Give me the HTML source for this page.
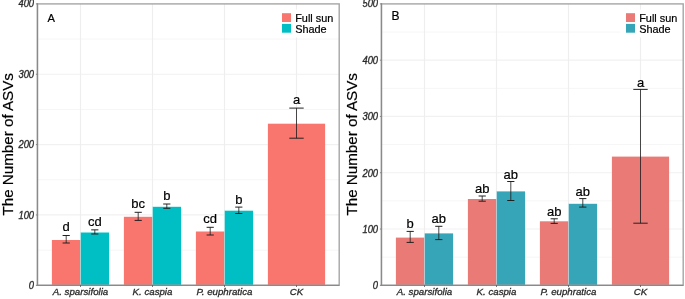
<!DOCTYPE html><html><head><meta charset="utf-8"><style>html,body{margin:0;padding:0;background:#fff;}svg{display:block;will-change:transform;}text{font-family:"Liberation Sans", sans-serif;-webkit-font-smoothing:antialiased;}</style></head><body>
<svg width="685" height="299" viewBox="0 0 685 299">
<rect width="685" height="299" fill="#fff"/>
<line x1="37.40" x2="339.20" y1="250.12" y2="250.12" stroke="#F6F6F6" stroke-width="1"/>
<line x1="37.40" x2="339.20" y1="179.77" y2="179.77" stroke="#F6F6F6" stroke-width="1"/>
<line x1="37.40" x2="339.20" y1="109.42" y2="109.42" stroke="#F6F6F6" stroke-width="1"/>
<line x1="37.40" x2="339.20" y1="39.07" y2="39.07" stroke="#F6F6F6" stroke-width="1"/>
<line x1="37.40" x2="339.20" y1="214.95" y2="214.95" stroke="#F1F1F1" stroke-width="1.2"/>
<line x1="37.40" x2="339.20" y1="144.60" y2="144.60" stroke="#F1F1F1" stroke-width="1.2"/>
<line x1="37.40" x2="339.20" y1="74.25" y2="74.25" stroke="#F1F1F1" stroke-width="1.2"/>
<line x1="80.50" x2="80.50" y1="3.90" y2="285.30" stroke="#EEEEEE" stroke-width="1.2"/>
<line x1="152.50" x2="152.50" y1="3.90" y2="285.30" stroke="#EEEEEE" stroke-width="1.2"/>
<line x1="224.50" x2="224.50" y1="3.90" y2="285.30" stroke="#EEEEEE" stroke-width="1.2"/>
<line x1="296.50" x2="296.50" y1="3.90" y2="285.30" stroke="#EEEEEE" stroke-width="1.2"/>
<rect x="51.90" y="240.00" width="28.60" height="45.30" fill="#F8766D"/>
<rect x="80.50" y="232.50" width="28.60" height="52.80" fill="#00BFC4"/>
<line x1="80.50" x2="80.50" y1="232.50" y2="285.30" stroke="#fff" stroke-opacity="0.6" stroke-width="0.6"/>
<path d="M62.60 235.50H69.80M62.60 243.00H69.80" stroke="#222" stroke-width="1" fill="none"/><path d="M66.20 235.50V243.00" stroke="#1a1a1a" stroke-width="0.8" fill="none"/>
<path d="M91.20 229.85H98.40M91.20 234.00H98.40" stroke="#222" stroke-width="1" fill="none"/><path d="M94.80 229.85V234.00" stroke="#1a1a1a" stroke-width="0.8" fill="none"/>
<rect x="123.90" y="216.80" width="28.60" height="68.50" fill="#F8766D"/>
<rect x="152.50" y="206.80" width="28.60" height="78.50" fill="#00BFC4"/>
<line x1="152.50" x2="152.50" y1="206.80" y2="285.30" stroke="#fff" stroke-opacity="0.6" stroke-width="0.6"/>
<path d="M134.60 212.30H141.80M134.60 220.40H141.80" stroke="#222" stroke-width="1" fill="none"/><path d="M138.20 212.30V220.40" stroke="#1a1a1a" stroke-width="0.8" fill="none"/>
<path d="M163.20 204.00H170.40M163.20 208.30H170.40" stroke="#222" stroke-width="1" fill="none"/><path d="M166.80 204.00V208.30" stroke="#1a1a1a" stroke-width="0.8" fill="none"/>
<rect x="195.90" y="231.50" width="28.60" height="53.80" fill="#F8766D"/>
<rect x="224.50" y="210.70" width="28.60" height="74.60" fill="#00BFC4"/>
<line x1="224.50" x2="224.50" y1="210.70" y2="285.30" stroke="#fff" stroke-opacity="0.6" stroke-width="0.6"/>
<path d="M206.60 227.30H213.80M206.60 235.00H213.80" stroke="#222" stroke-width="1" fill="none"/><path d="M210.20 227.30V235.00" stroke="#1a1a1a" stroke-width="0.8" fill="none"/>
<path d="M235.20 207.10H242.40M235.20 213.50H242.40" stroke="#222" stroke-width="1" fill="none"/><path d="M238.80 207.10V213.50" stroke="#1a1a1a" stroke-width="0.8" fill="none"/>
<rect x="267.90" y="123.70" width="57.20" height="161.60" fill="#F8766D"/>
<path d="M289.30 108.10H303.70M289.30 138.20H303.70" stroke="#222" stroke-width="1" fill="none"/><path d="M296.50 108.10V138.20" stroke="#1a1a1a" stroke-width="0.8" fill="none"/>
<text transform="translate(66.20,231.30) scale(1,1.05)" font-size="13" text-anchor="middle" fill="#000" stroke="#000" stroke-width="0.2">d</text>
<text transform="translate(94.80,225.65) scale(1,1.05)" font-size="13" text-anchor="middle" fill="#000" stroke="#000" stroke-width="0.2">cd</text>
<text transform="translate(138.20,207.60) scale(1,1.05)" font-size="13" text-anchor="middle" fill="#000" stroke="#000" stroke-width="0.2">bc</text>
<text transform="translate(166.80,199.90) scale(1,1.05)" font-size="13" text-anchor="middle" fill="#000" stroke="#000" stroke-width="0.2">b</text>
<text transform="translate(210.20,222.90) scale(1,1.05)" font-size="13" text-anchor="middle" fill="#000" stroke="#000" stroke-width="0.2">cd</text>
<text transform="translate(238.80,203.70) scale(1,1.05)" font-size="13" text-anchor="middle" fill="#000" stroke="#000" stroke-width="0.2">b</text>
<text transform="translate(296.50,104.00) scale(1,1.05)" font-size="13" text-anchor="middle" fill="#000" stroke="#000" stroke-width="0.2">a</text>
<rect x="37.40" y="3.90" width="301.80" height="281.40" fill="none" stroke="#A6A6A6" stroke-width="1.4"/>
<line x1="37.50" x2="37.50" y1="3.20" y2="286.00" stroke="#8A8A8A" stroke-width="1.3"/>
<line x1="36.80" x2="339.20" y1="285.30" y2="285.30" stroke="#8A8A8A" stroke-width="1.3"/>
<line x1="35.90" x2="37.40" y1="285.30" y2="285.30" stroke="#858585" stroke-width="1"/>
<text transform="translate(34.10,289.15) scale(1,1.09)" font-size="9.4" font-style="italic" text-anchor="end" fill="#2a2a2a" stroke="#2a2a2a" stroke-width="0.3">0</text>
<line x1="35.90" x2="37.40" y1="214.95" y2="214.95" stroke="#858585" stroke-width="1"/>
<text transform="translate(34.10,218.80) scale(1,1.09)" font-size="9.4" font-style="italic" text-anchor="end" fill="#2a2a2a" stroke="#2a2a2a" stroke-width="0.3">100</text>
<line x1="35.90" x2="37.40" y1="144.60" y2="144.60" stroke="#858585" stroke-width="1"/>
<text transform="translate(34.10,148.45) scale(1,1.09)" font-size="9.4" font-style="italic" text-anchor="end" fill="#2a2a2a" stroke="#2a2a2a" stroke-width="0.3">200</text>
<line x1="35.90" x2="37.40" y1="74.25" y2="74.25" stroke="#858585" stroke-width="1"/>
<text transform="translate(34.10,78.10) scale(1,1.09)" font-size="9.4" font-style="italic" text-anchor="end" fill="#2a2a2a" stroke="#2a2a2a" stroke-width="0.3">300</text>
<line x1="35.90" x2="37.40" y1="3.90" y2="3.90" stroke="#858585" stroke-width="1"/>
<text transform="translate(34.10,7.15) scale(1,1.09)" font-size="9.4" font-style="italic" text-anchor="end" fill="#2a2a2a" stroke="#2a2a2a" stroke-width="0.3">400</text>
<line x1="80.50" x2="80.50" y1="285.30" y2="286.80" stroke="#555" stroke-width="1"/>
<text x="80.50" y="295.1" font-size="9.7" font-style="italic" text-anchor="middle" fill="#2a2a2a" stroke="#2a2a2a" stroke-width="0.3">A. sparsifolia</text>
<line x1="152.50" x2="152.50" y1="285.30" y2="286.80" stroke="#555" stroke-width="1"/>
<text x="152.50" y="295.1" font-size="9.7" font-style="italic" text-anchor="middle" fill="#2a2a2a" stroke="#2a2a2a" stroke-width="0.3">K. caspia</text>
<line x1="224.50" x2="224.50" y1="285.30" y2="286.80" stroke="#555" stroke-width="1"/>
<text x="224.50" y="295.1" font-size="9.7" font-style="italic" text-anchor="middle" fill="#2a2a2a" stroke="#2a2a2a" stroke-width="0.3">P. euphratica</text>
<line x1="296.50" x2="296.50" y1="285.30" y2="286.80" stroke="#555" stroke-width="1"/>
<text x="296.50" y="295.1" font-size="9.7" font-style="italic" text-anchor="middle" fill="#2a2a2a" stroke="#2a2a2a" stroke-width="0.3">CK</text>
<text x="47.60" y="21.60" font-size="11.2" fill="#000" stroke="#000" stroke-width="0.2">A</text>
<rect x="276.50" y="9.6" width="61.50" height="27.8" fill="#fff"/>
<rect x="282.00" y="13.2" width="9" height="8.8" fill="#F8766D"/>
<rect x="282.00" y="23.9" width="9" height="8.8" fill="#00BFC4"/>
<text x="295.20" y="21.5" font-size="10.9" fill="#000" stroke="#000" stroke-width="0.2">Full sun</text>
<text x="295.20" y="32.5" font-size="10.9" fill="#000" stroke="#000" stroke-width="0.2">Shade</text>
<text transform="translate(12.90,144.30) rotate(-90) scale(0.985,1)" font-size="15.4" text-anchor="middle" fill="#000" stroke="#000" stroke-width="0.2">The Number of ASVs</text>
<line x1="381.40" x2="683.20" y1="257.16" y2="257.16" stroke="#F6F6F6" stroke-width="1"/>
<line x1="381.40" x2="683.20" y1="200.88" y2="200.88" stroke="#F6F6F6" stroke-width="1"/>
<line x1="381.40" x2="683.20" y1="144.60" y2="144.60" stroke="#F6F6F6" stroke-width="1"/>
<line x1="381.40" x2="683.20" y1="88.32" y2="88.32" stroke="#F6F6F6" stroke-width="1"/>
<line x1="381.40" x2="683.20" y1="32.04" y2="32.04" stroke="#F6F6F6" stroke-width="1"/>
<line x1="381.40" x2="683.20" y1="229.02" y2="229.02" stroke="#F1F1F1" stroke-width="1.2"/>
<line x1="381.40" x2="683.20" y1="172.74" y2="172.74" stroke="#F1F1F1" stroke-width="1.2"/>
<line x1="381.40" x2="683.20" y1="116.46" y2="116.46" stroke="#F1F1F1" stroke-width="1.2"/>
<line x1="381.40" x2="683.20" y1="60.18" y2="60.18" stroke="#F1F1F1" stroke-width="1.2"/>
<line x1="424.50" x2="424.50" y1="3.90" y2="285.30" stroke="#EEEEEE" stroke-width="1.2"/>
<line x1="496.50" x2="496.50" y1="3.90" y2="285.30" stroke="#EEEEEE" stroke-width="1.2"/>
<line x1="568.50" x2="568.50" y1="3.90" y2="285.30" stroke="#EEEEEE" stroke-width="1.2"/>
<line x1="640.50" x2="640.50" y1="3.90" y2="285.30" stroke="#EEEEEE" stroke-width="1.2"/>
<rect x="395.90" y="237.60" width="28.60" height="47.70" fill="#EA7A76"/>
<rect x="424.50" y="233.40" width="28.60" height="51.90" fill="#36A5B8"/>
<line x1="424.50" x2="424.50" y1="233.40" y2="285.30" stroke="#fff" stroke-opacity="0.6" stroke-width="0.6"/>
<path d="M406.60 231.40H413.80M406.60 242.40H413.80" stroke="#222" stroke-width="1" fill="none"/><path d="M410.20 231.40V242.40" stroke="#1a1a1a" stroke-width="0.8" fill="none"/>
<path d="M435.20 226.30H442.40M435.20 239.60H442.40" stroke="#222" stroke-width="1" fill="none"/><path d="M438.80 226.30V239.60" stroke="#1a1a1a" stroke-width="0.8" fill="none"/>
<rect x="467.90" y="199.00" width="28.60" height="86.30" fill="#EA7A76"/>
<rect x="496.50" y="191.40" width="28.60" height="93.90" fill="#36A5B8"/>
<line x1="496.50" x2="496.50" y1="191.40" y2="285.30" stroke="#fff" stroke-opacity="0.6" stroke-width="0.6"/>
<path d="M478.60 196.00H485.80M478.60 201.20H485.80" stroke="#222" stroke-width="1" fill="none"/><path d="M482.20 196.00V201.20" stroke="#1a1a1a" stroke-width="0.8" fill="none"/>
<path d="M507.20 181.50H514.40M507.20 200.50H514.40" stroke="#222" stroke-width="1" fill="none"/><path d="M510.80 181.50V200.50" stroke="#1a1a1a" stroke-width="0.8" fill="none"/>
<rect x="539.90" y="221.30" width="28.60" height="64.00" fill="#EA7A76"/>
<rect x="568.50" y="203.80" width="28.60" height="81.50" fill="#36A5B8"/>
<line x1="568.50" x2="568.50" y1="203.80" y2="285.30" stroke="#fff" stroke-opacity="0.6" stroke-width="0.6"/>
<path d="M550.60 218.80H557.80M550.60 223.40H557.80" stroke="#222" stroke-width="1" fill="none"/><path d="M554.20 218.80V223.40" stroke="#1a1a1a" stroke-width="0.8" fill="none"/>
<path d="M579.20 198.60H586.40M579.20 207.10H586.40" stroke="#222" stroke-width="1" fill="none"/><path d="M582.80 198.60V207.10" stroke="#1a1a1a" stroke-width="0.8" fill="none"/>
<rect x="611.90" y="156.60" width="57.20" height="128.70" fill="#EA7A76"/>
<path d="M633.30 89.40H647.70M633.30 223.20H647.70" stroke="#222" stroke-width="1" fill="none"/><path d="M640.50 89.40V223.20" stroke="#1a1a1a" stroke-width="0.8" fill="none"/>
<text transform="translate(410.20,228.30) scale(1,1.05)" font-size="13" text-anchor="middle" fill="#000" stroke="#000" stroke-width="0.2">b</text>
<text transform="translate(438.80,223.30) scale(1,1.05)" font-size="13" text-anchor="middle" fill="#000" stroke="#000" stroke-width="0.2">ab</text>
<text transform="translate(482.20,192.60) scale(1,1.05)" font-size="13" text-anchor="middle" fill="#000" stroke="#000" stroke-width="0.2">ab</text>
<text transform="translate(510.80,179.00) scale(1,1.05)" font-size="13" text-anchor="middle" fill="#000" stroke="#000" stroke-width="0.2">ab</text>
<text transform="translate(554.20,216.20) scale(1,1.05)" font-size="13" text-anchor="middle" fill="#000" stroke="#000" stroke-width="0.2">ab</text>
<text transform="translate(582.80,196.30) scale(1,1.05)" font-size="13" text-anchor="middle" fill="#000" stroke="#000" stroke-width="0.2">ab</text>
<text transform="translate(640.50,86.60) scale(1,1.05)" font-size="13" text-anchor="middle" fill="#000" stroke="#000" stroke-width="0.2">a</text>
<rect x="381.40" y="3.90" width="301.80" height="281.40" fill="none" stroke="#A6A6A6" stroke-width="1.4"/>
<line x1="381.50" x2="381.50" y1="3.20" y2="286.00" stroke="#8A8A8A" stroke-width="1.3"/>
<line x1="380.80" x2="683.20" y1="285.30" y2="285.30" stroke="#8A8A8A" stroke-width="1.3"/>
<line x1="379.90" x2="381.40" y1="285.30" y2="285.30" stroke="#858585" stroke-width="1"/>
<text transform="translate(378.10,289.15) scale(1,1.09)" font-size="9.4" font-style="italic" text-anchor="end" fill="#2a2a2a" stroke="#2a2a2a" stroke-width="0.3">0</text>
<line x1="379.90" x2="381.40" y1="229.02" y2="229.02" stroke="#858585" stroke-width="1"/>
<text transform="translate(378.10,232.87) scale(1,1.09)" font-size="9.4" font-style="italic" text-anchor="end" fill="#2a2a2a" stroke="#2a2a2a" stroke-width="0.3">100</text>
<line x1="379.90" x2="381.40" y1="172.74" y2="172.74" stroke="#858585" stroke-width="1"/>
<text transform="translate(378.10,176.59) scale(1,1.09)" font-size="9.4" font-style="italic" text-anchor="end" fill="#2a2a2a" stroke="#2a2a2a" stroke-width="0.3">200</text>
<line x1="379.90" x2="381.40" y1="116.46" y2="116.46" stroke="#858585" stroke-width="1"/>
<text transform="translate(378.10,120.31) scale(1,1.09)" font-size="9.4" font-style="italic" text-anchor="end" fill="#2a2a2a" stroke="#2a2a2a" stroke-width="0.3">300</text>
<line x1="379.90" x2="381.40" y1="60.18" y2="60.18" stroke="#858585" stroke-width="1"/>
<text transform="translate(378.10,64.03) scale(1,1.09)" font-size="9.4" font-style="italic" text-anchor="end" fill="#2a2a2a" stroke="#2a2a2a" stroke-width="0.3">400</text>
<line x1="379.90" x2="381.40" y1="3.90" y2="3.90" stroke="#858585" stroke-width="1"/>
<text transform="translate(378.10,7.15) scale(1,1.09)" font-size="9.4" font-style="italic" text-anchor="end" fill="#2a2a2a" stroke="#2a2a2a" stroke-width="0.3">500</text>
<line x1="424.50" x2="424.50" y1="285.30" y2="286.80" stroke="#555" stroke-width="1"/>
<text x="424.50" y="295.1" font-size="9.7" font-style="italic" text-anchor="middle" fill="#2a2a2a" stroke="#2a2a2a" stroke-width="0.3">A. sparsifolia</text>
<line x1="496.50" x2="496.50" y1="285.30" y2="286.80" stroke="#555" stroke-width="1"/>
<text x="496.50" y="295.1" font-size="9.7" font-style="italic" text-anchor="middle" fill="#2a2a2a" stroke="#2a2a2a" stroke-width="0.3">K. caspia</text>
<line x1="568.50" x2="568.50" y1="285.30" y2="286.80" stroke="#555" stroke-width="1"/>
<text x="568.50" y="295.1" font-size="9.7" font-style="italic" text-anchor="middle" fill="#2a2a2a" stroke="#2a2a2a" stroke-width="0.3">P. euphratica</text>
<line x1="640.50" x2="640.50" y1="285.30" y2="286.80" stroke="#555" stroke-width="1"/>
<text x="640.50" y="295.1" font-size="9.7" font-style="italic" text-anchor="middle" fill="#2a2a2a" stroke="#2a2a2a" stroke-width="0.3">CK</text>
<text x="391.50" y="19.90" font-size="12" fill="#000" stroke="#000" stroke-width="0.2">B</text>
<rect x="620.50" y="9.6" width="61.50" height="27.8" fill="#fff"/>
<rect x="626.00" y="13.2" width="9" height="8.8" fill="#EA7A76"/>
<rect x="626.00" y="23.9" width="9" height="8.8" fill="#36A5B8"/>
<text x="639.20" y="21.5" font-size="10.9" fill="#000" stroke="#000" stroke-width="0.2">Full sun</text>
<text x="639.20" y="32.5" font-size="10.9" fill="#000" stroke="#000" stroke-width="0.2">Shade</text>
<text transform="translate(357.10,144.30) rotate(-90) scale(0.985,1)" font-size="15.4" text-anchor="middle" fill="#000" stroke="#000" stroke-width="0.2">The Number of ASVs</text>
</svg></body></html>
